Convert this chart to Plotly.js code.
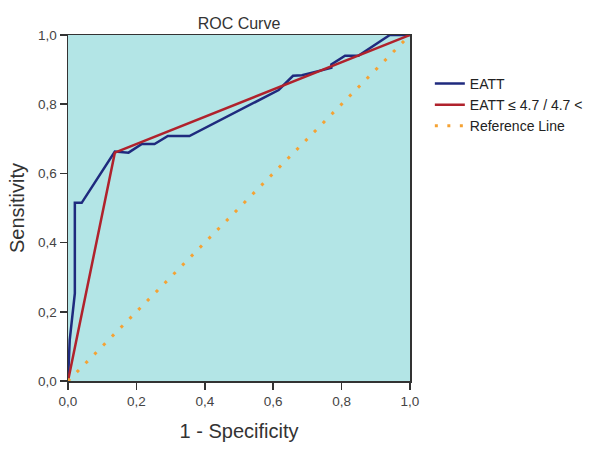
<!DOCTYPE html>
<html><head><meta charset="utf-8">
<script src="https://cdn.plot.ly/plotly-3.0.1.min.js"></script>
<style>body{margin:0;background:#fff}</style>
</head><body><div id="chart" style="width:600px;height:451px"></div>
<script>
const eattX = [0, 0.005, 0.02, 0.02, 0.04, 0.137, 0.177, 0.216, 0.253, 0.292, 0.355, 0.616, 0.658, 0.684, 0.77, 0.77, 0.81, 0.849, 0.941, 1.0];
const eattY = [0, 0.118, 0.253, 0.515, 0.515, 0.663, 0.66, 0.685, 0.685, 0.708, 0.708, 0.841, 0.882, 0.884, 0.905, 0.915, 0.94, 0.94, 1.0, 1.0];
const cutX = [0, 0.137, 1.0];
const cutY = [0, 0.66, 1.0];
const refX = [0, 1];
const refY = [0, 1];
const seriesNames = ["EATT", "EATT \u2264 4.7 / 4.7 <", "Reference Line"];
const tickVals = [0, 0.2, 0.4, 0.6, 0.8, 1.0];

const traces = [
  {x: eattX, y: eattY, mode: 'lines', name: seriesNames[0], line: {color: '#1f2a7e', width: 2.5}},
  {x: cutX, y: cutY, mode: 'lines', name: seriesNames[1], line: {color: '#b0222c', width: 2.5}},
  {x: refX, y: refY, mode: 'lines', name: seriesNames[2], line: {color: '#f5a233', width: 3, dash: '3px,9.5px'}}
];
const axisCommon = {
  range: [0, 1], tickvals: tickVals, tickformat: '.1f', ticks: 'outside', ticklen: 7, tickwidth: 1.5,
  tickcolor: '#333', showgrid: false, zeroline: false, showline: true, linecolor: '#333', linewidth: 1.5,
  mirror: true, tickfont: {size: 13.5, color: '#444'}
};
const layout = {
  width: 600, height: 451,
  margin: {l: 68, r: 188, t: 35, b: 70},
  paper_bgcolor: '#fff', plot_bgcolor: '#b3e5e6',
  separators: ', ',
  font: {family: 'Liberation Sans, Arial, sans-serif', color: '#333'},
  title: {text: 'ROC Curve', x: 0.5, xref: 'paper', xanchor: 'center', y: 1, yref: 'paper', yanchor: 'bottom', pad: {b: 6}, font: {size: 16, color: '#333'}},
  xaxis: Object.assign({}, axisCommon, {title: {text: '1 - Specificity', font: {size: 20, color: '#333'}, standoff: 16}}),
  yaxis: Object.assign({}, axisCommon, {title: {text: 'Sensitivity', font: {size: 20, color: '#333'}, standoff: 8}}),
  showlegend: true,
  legend: {x: 1.058, y: 0.905, xanchor: 'left', yanchor: 'top', font: {size: 14, color: '#222'}, tracegroupgap: 0, itemwidth: 30, bgcolor: 'rgba(0,0,0,0)'}
};
Plotly.newPlot('chart', traces, layout, {displayModeBar: false, staticPlot: true});
</script></body></html>
